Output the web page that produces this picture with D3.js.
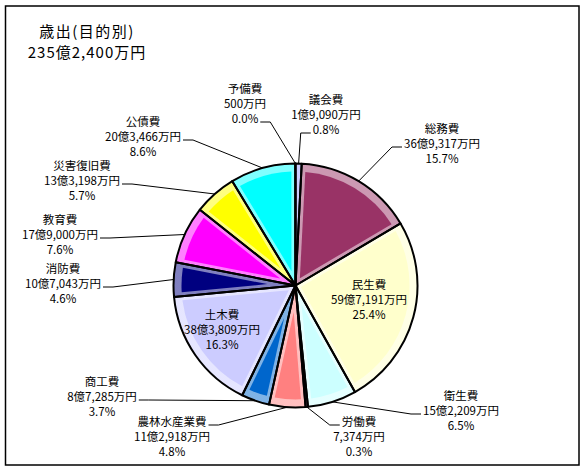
<!DOCTYPE html>
<html>
<head>
<meta charset="utf-8">
<script src="https://cdn.jsdelivr.net/npm/d3@7"></script>
<style>
  body { margin: 0; background: #fff; }
  text { font-family: "Noto Sans CJK JP", sans-serif; fill: #000; }
</style>
</head>
<body>
<svg id="chart"></svg>
<script>
// 歳出(目的別) pie, amounts in 万円
const categories = ['議会費', '総務費', '民生費', '衛生費', '労働費', '農林水産業費', '商工費',
                    '土木費', '消防費', '教育費', '災害復旧費', '公債費', '予備費'];
const amounts = [19090, 369317, 597191, 152209, 7374, 112918, 87285,
                 383809, 107043, 179000, 133198, 203466, 500];
const colors = ['#9999FF', '#993366', '#FFFFCC', '#CCFFFF', '#660066', '#FF8080', '#0066CC',
                '#CCCCFF', '#000080', '#FF00FF', '#FFFF00', '#00FFFF', '#800080'];
const chartTitle = '歳出(目的別)';

var svgWidth = 586;
var svgHeight = 472;

// pie placement
var cx = 295.5, cy = 285.5, radius = 122;
var rimBevel = 8;   // bevel along the outer arc
var edgeBevel = 4;  // bevel along the straight edges

// label placement: centre x, middle row y, side where the leader starts, row it starts on
var labelLayout = {
    '議会費':       { x: 326, y: 115, side: 'left',  row: 2 },
    '総務費':       { x: 442, y: 144, side: 'left',  row: 1 },
    '民生費':       { x: 369, y: 300, inside: true },
    '衛生費':       { x: 461, y: 411, side: 'left',  row: 1 },
    '労働費':       { x: 359, y: 437, side: 'left',  row: 0 },
    '農林水産業費': { x: 172, y: 437, side: 'right', row: 0 },
    '商工費':       { x: 102, y: 397, side: 'right', row: 1 },
    '土木費':       { x: 222, y: 330, inside: true },
    '消防費':       { x: 63,  y: 284, side: 'right', row: 1 },
    '教育費':       { x: 60,  y: 235, side: 'right', row: 1 },
    '災害復旧費':   { x: 82,  y: 181, side: 'right', row: 1 },
    '公債費':       { x: 143, y: 137, side: 'right', row: 1 },
    '予備費':       { x: 245, y: 104, side: 'right', row: 2 }
};

// 万円 -> "xx億x,xxx万円"
function yenLabel(v) {
    var oku = Math.floor(v / 10000);
    var man = v % 10000;
    return (oku > 0 ? oku + '億' : '') + d3.format(',')(man) + '万円';
}

var total = d3.sum(amounts);
var pctFormat = d3.format('.1%');

var svg = d3.select('#chart')
    .attr('width', svgWidth)
    .attr('height', svgHeight);

// frame
svg.append('rect')
    .attr('x', 5.5).attr('y', 6)
    .attr('width', 573.5).attr('height', 459)
    .attr('fill', '#fff')
    .attr('stroke', '#000')
    .attr('stroke-width', 1.5);

// title
var titleGroup = svg.append('g').attr('transform', 'translate(87,0)');
titleGroup.append('text')
    .attr('y', 32)
    .attr('dy', '0.35em')
    .attr('text-anchor', 'middle')
    .style('font-size', '15px')
    .style('letter-spacing', '1.5px')
    .text(chartTitle);
titleGroup.append('text')
    .attr('y', 53)
    .attr('dy', '0.35em')
    .attr('text-anchor', 'middle')
    .style('font-size', '15px')
    .style('letter-spacing', '1px')
    .text(yenLabel(total));

var data = categories.map((c, i) => ({ name: c, value: amounts[i], color: colors[i] }));

var pie = d3.pie()
    .sort(null)
    .value(d => d.value);

var arcs = pie(data);

var arc = d3.arc()
    .innerRadius(0)
    .outerRadius(radius);

var defs = svg.append('defs');
var grad = defs.append('linearGradient')
    .attr('id', 'bevel')
    .attr('gradientUnits', 'userSpaceOnUse')
    .attr('x1', cx - radius).attr('y1', cy - radius)
    .attr('x2', cx + radius).attr('y2', cy + radius);
grad.append('stop').attr('offset', '0%').attr('stop-color', '#fff').attr('stop-opacity', 0.5);
grad.append('stop').attr('offset', '50%').attr('stop-color', '#fff').attr('stop-opacity', 0.0);
grad.append('stop').attr('offset', '100%').attr('stop-color', '#000').attr('stop-opacity', 0.35);

// inset wedge for the flat top face of each slice
function innerFace(d) {
    var theta = d.endAngle - d.startAngle;
    var R = radius - rimBevel;
    var apexDist = edgeBevel / Math.sin(Math.min(theta, Math.PI) / 2);
    if (apexDist > R * 0.7) return null;
    var delta = Math.asin(edgeBevel / R);
    var mid = (d.startAngle + d.endAngle) / 2;
    var a0 = d.startAngle + delta, a1 = d.endAngle - delta;
    var p = d3.path();
    p.moveTo(apexDist * Math.sin(mid), -apexDist * Math.cos(mid));
    p.lineTo(R * Math.sin(a0), -R * Math.cos(a0));
    p.arc(0, 0, R, a0 - Math.PI / 2, a1 - Math.PI / 2);
    p.closePath();
    return p.toString();
}

var pieGroup = svg.append('g')
    .attr('transform', `translate(${cx}, ${cy})`);

// base colour
pieGroup.append('g').selectAll('path')
    .data(arcs)
    .enter()
    .append('path')
    .attr('d', arc)
    .attr('fill', d => d.data.color);

// light/dark rim
pieGroup.append('g').selectAll('path')
    .data(arcs)
    .enter()
    .append('path')
    .attr('d', arc)
    .attr('transform', `translate(${-cx}, ${-cy})`)
    .attr('transform', null)
    .attr('fill', 'url(#bevel)');

// flat faces
pieGroup.append('g').selectAll('path')
    .data(arcs.filter(d => innerFace(d) !== null))
    .enter()
    .append('path')
    .attr('d', innerFace)
    .attr('fill', d => d.data.color);

// outlines
pieGroup.append('g').selectAll('path')
    .data(arcs)
    .enter()
    .append('path')
    .attr('d', arc)
    .attr('fill', 'none')
    .attr('stroke', '#000')
    .attr('stroke-width', 2)
    .attr('stroke-linejoin', 'round');

// labels
var rowGap = 15;
var labelGroup = svg.append('g').style('font-size', '11.5px');

arcs.forEach(d => {
    var lay = labelLayout[d.data.name];
    var lines = [d.data.name, yenLabel(d.data.value), pctFormat(d.data.value / total)];
    var g = labelGroup.append('g');
    var texts = lines.map((t, i) => g.append('text')
        .attr('x', lay.x)
        .attr('y', lay.y + (i - 1) * rowGap)
        .attr('dy', '0.35em')
        .attr('text-anchor', 'middle')
        .text(t));

    if (lay.inside) return;

    // leader: short horizontal stub then a line to the slice edge
    var w = texts[lay.row].node().getComputedTextLength();
    var sy = lay.y + (lay.row - 1) * rowGap + 3;
    var sx0, sx1;
    if (lay.side === 'left') {
        sx0 = lay.x - w / 2 - 2;
        sx1 = sx0 - 10;
    } else {
        sx0 = lay.x + w / 2 + 2;
        sx1 = sx0 + 10;
    }
    var mid = (d.startAngle + d.endAngle) / 2;
    var ex = cx + radius * Math.sin(mid);
    var ey = cy - radius * Math.cos(mid);
    labelGroup.append('path')
        .attr('d', d3.line()([[sx0, sy], [sx1, sy], [ex, ey]]))
        .attr('fill', 'none')
        .attr('stroke', '#000')
        .attr('stroke-width', 1);
});
</script>
</body>
</html>
